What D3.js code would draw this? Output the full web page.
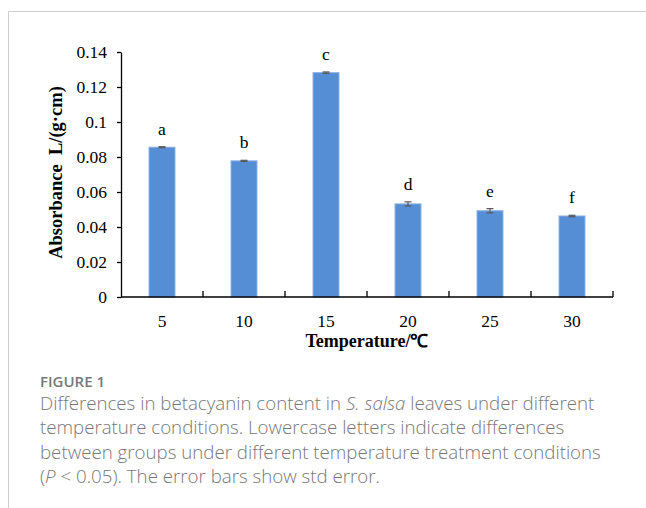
<!DOCTYPE html>
<html>
<head>
<meta charset="utf-8">
<script src="https://cdn.jsdelivr.net/npm/d3@7"></script>
<style>
  body { margin: 0; background: #fff; }
  svg text { font-family: "Liberation Serif", "Times New Roman", serif; }
  .cap { font-family: "Open Sans", "Noto Sans", sans-serif; fill: #787878; }
</style>
</head>
<body>
<svg id="chart" width="646" height="508"></svg>
<script>
// data
var temps = ["5", "10", "15", "20", "25", "30"];
var absorb = [0.0856, 0.0778, 0.1282, 0.0532, 0.0493, 0.0463];
var stdErr = [0.0003, 0.0003, 0.0004, 0.0012, 0.0012, 0.0004];
var letters = ["a", "b", "c", "d", "e", "f"];
var yTicks = [0, 0.02, 0.04, 0.06, 0.08, 0.1, 0.12, 0.14];
var yTickLabels = ["0", "0.02", "0.04", "0.06", "0.08", "0.1", "0.12", "0.14"];

var svg = d3.select("#chart");

// card frame
svg.append("line").attr("x1", 8.5).attr("x2", 646).attr("y1", 11.5).attr("y2", 11.5)
  .attr("stroke", "#cfcfcf");
svg.append("line").attr("x1", 8.5).attr("x2", 8.5).attr("y1", 11.5).attr("y2", 508)
  .attr("stroke", "#cfcfcf");

var pLeft = 121, pRight = 613, pTop = 52, pBottom = 297;

var x = d3.scaleBand().domain(temps).range([pLeft, pRight]);
var y = d3.scaleLinear().domain([0, 0.14]).range([pBottom, pTop]);
var barW = 26;

// bars
svg.selectAll("rect.bar").data(absorb).enter().append("rect")
  .attr("class", "bar")
  .attr("x", function(d, i){ return x(temps[i]) + x.bandwidth()/2 - barW/2; })
  .attr("y", function(d){ return y(d); })
  .attr("width", barW)
  .attr("height", function(d){ return y(0) - y(d); })
  .attr("fill", "#558ed5")
  .attr("stroke", "#8db3e4")
  .attr("stroke-width", 1);

// error bars
var eb = svg.selectAll("g.err").data(absorb).enter().append("g")
  .attr("class", "err")
  .attr("stroke", "#595959").attr("stroke-width", 1.2);
eb.append("line")
  .attr("x1", function(d, i){ return x(temps[i]) + x.bandwidth()/2; })
  .attr("x2", function(d, i){ return x(temps[i]) + x.bandwidth()/2; })
  .attr("y1", function(d, i){ return y(d + stdErr[i]); })
  .attr("y2", function(d, i){ return y(d - stdErr[i]); });
[1, -1].forEach(function(s){
  eb.append("line")
    .attr("x1", function(d, i){ return x(temps[i]) + x.bandwidth()/2 - 3.5; })
    .attr("x2", function(d, i){ return x(temps[i]) + x.bandwidth()/2 + 3.5; })
    .attr("y1", function(d, i){ return y(d + s*stdErr[i]); })
    .attr("y2", function(d, i){ return y(d + s*stdErr[i]); });
});

// significance letters
svg.selectAll("text.sig").data(absorb).enter().append("text")
  .attr("class", "sig")
  .attr("x", function(d, i){ return x(temps[i]) + x.bandwidth()/2; })
  .attr("y", function(d, i){ return y(d + stdErr[i]) - 12; })
  .attr("text-anchor", "middle")
  .style("font-size", "17.5px")
  .text(function(d, i){ return letters[i]; });

// y axis
var yAxis = d3.axisLeft(y).tickValues(yTicks)
  .tickFormat(function(d, i){ return yTickLabels[i]; })
  .tickSizeInner(4).tickSizeOuter(0).tickPadding(10);
var gy = svg.append("g").attr("transform", "translate(" + pLeft + ",0)").call(yAxis);
gy.selectAll("text").style("font-size", "17.5px").attr("fill", "#000");
gy.selectAll("line, path").attr("stroke", "#000").attr("stroke-width", 1.3);

// x axis: line with upward ticks at category boundaries
var gx = svg.append("g");
gx.append("line").attr("x1", pLeft).attr("x2", pRight).attr("y1", pBottom).attr("y2", pBottom)
  .attr("stroke", "#000").attr("stroke-width", 1.3);
gx.selectAll("line.tk").data(temps).enter().append("line")
  .attr("class", "tk")
  .attr("x1", function(d){ return x(d) + x.bandwidth(); })
  .attr("x2", function(d){ return x(d) + x.bandwidth(); })
  .attr("y1", pBottom).attr("y2", pBottom - 6)
  .attr("stroke", "#000").attr("stroke-width", 1.3);
gx.selectAll("text").data(temps).enter().append("text")
  .attr("x", function(d){ return x(d) + x.bandwidth()/2; })
  .attr("y", 327)
  .attr("text-anchor", "middle")
  .style("font-size", "17.5px")
  .text(function(d){ return d; });

// axis titles
svg.append("text")
  .attr("x", (pLeft + pRight)/2).attr("y", 347)
  .attr("text-anchor", "middle")
  .style("font-size", "18px").style("font-weight", "bold")
  .text("Temperature/\u2103");
svg.append("text")
  .attr("transform", "translate(62," + ((pTop + pBottom)/2 - 2) + ") rotate(-90)")
  .attr("text-anchor", "middle")
  .style("font-size", "18.5px").style("font-weight", "bold")
  .attr("xml:space", "preserve")
  .text("Absorbance  L/(g\u00b7cm)");

// caption
svg.append("text").attr("class", "cap")
  .attr("x", 40).attr("y", 387)
  .style("font-size", "15px").style("font-weight", "600")
  .text("FIGURE 1");
var cap = [
  ["Differences in betacyanin content in ", "S. salsa", " leaves under different"],
  ["temperature conditions. Lowercase letters indicate differences"],
  ["between groups under different temperature treatment conditions"],
  ["(", "P", " < 0.05). The error bars show std error."]
];
cap.forEach(function(parts, li){
  var t = svg.append("text").attr("class", "cap")
    .attr("x", 40).attr("y", 410 + li*24.3)
    .style("font-size", "18.7px").style("font-weight", "300");
  parts.forEach(function(p, pi){
    t.append("tspan")
      .style("font-style", pi === 1 ? "italic" : "normal")
      .text(p);
  });
});
</script>
</body>
</html>
